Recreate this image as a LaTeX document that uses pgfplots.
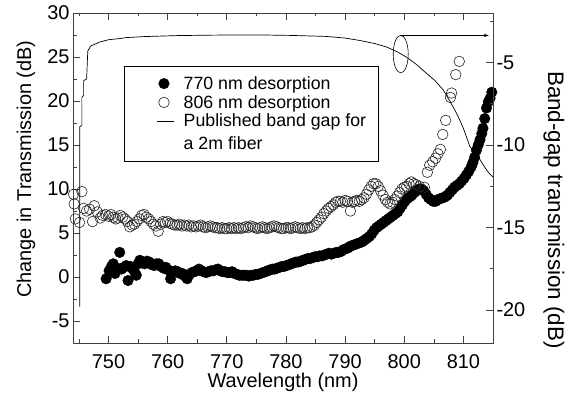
\documentclass[border=0pt]{standalone}
\usepackage{fontspec}
\setmainfont{Liberation Sans}
\usepackage{pgfplots}
\pgfplotsset{compat=1.18}
\pgfplotsset{
  markleg/.style={legend image code/.code={\path (-29.5bp,0) (17.4bp,0); \draw[##1] plot coordinates {(0cm,0cm)};}},
  lineleg/.style={legend image code/.code={\path (-29.5bp,0) (17.4bp,0); \draw[##1] (-6.5bp,11.25bp) -- (10.5bp,11.25bp);}},
}
\begin{document}
\begin{tikzpicture}
\useasboundingbox (0,0) rectangle (570bp,400bp);
\pgfplotsset{
  common/.style={
    at={(73bp,57bp)}, anchor=south west,
    scale only axis, width=420bp, height=330bp,
    xmin=744, xmax=815,
    major tick length=7bp, minor tick length=3.5bp,
    every tick/.style={black!75, line width=0.7pt},
    axis line style={black!75, line width=0.9pt},
    tick label style={font=\fontsize{20}{24}\selectfont},
    /pgf/number format/assume math mode=true,
  }
}
\begin{axis}[common,
  tick align=inside,
  ymin=-7.5, ymax=30,
  xtick={750,760,...,810}, minor xtick={745,755,...,805},
  ytick={-5,0,...,30}, minor ytick={-2.5,2.5,...,27.5},
  ytick pos=left, xtick pos=both, xticklabel pos=lower,
  xticklabel style={yshift=-8bp},
  xlabel={Wavelength (nm)},
  ylabel={Change in Transmission (dB)},
  every axis x label/.style={at={(axis description cs:0.5,-0.118)}, anchor=center, font=\fontsize{20}{24}\selectfont},
  every axis y label/.style={at={(axis description cs:-0.112,0.527)}, rotate=90, anchor=center, font=\fontsize{20}{24}\selectfont},
  legend style={at={(axis description cs:0.121,0.839)}, anchor=north west,
    draw=black, line width=0.6pt, fill=white,
    font=\fontsize{17.8}{22.5}\selectfont,
    cells={anchor=west, align=left},
    inner xsep=10bp, inner ysep=8bp, row sep=0.5bp},
]
\addplot[only marks, mark=*, mark size=5.3bp, mark options={fill=black, draw=black, line width=0.4pt}, markleg]
coordinates {
(749.6,-0.2)(750.1,0.7)(750.5,1.2)(750.8,1.5)(751.1,0.4)(751.5,1.0)(751.9,2.8)(752.2,0.9)
(752.6,1.1)(753.0,1.3)(753.3,-0.4)(753.7,1.2)(754.0,1.0)(754.4,0.6)(754.7,0.2)(755.0,1.5)
(755.3,1.9)(755.7,1.6)(756.1,1.5)(756.5,1.8)(756.9,1.7)(757.3,1.4)(757.7,1.3)(758.1,1.5)
(758.5,1.5)(758.9,1.2)(759.3,1.0)(759.7,1.1)(760.1,0.8)(760.5,-0.2)(760.9,0.6)(761.3,0.7)
(761.7,0.6)(762.1,0.4)(762.5,0.4)(762.9,0.1)(763.3,-0.2)(763.7,0.3)(764.1,0.5)(764.5,0.6)
(764.9,0.7)(765.3,0.9)(765.7,0.7)(766.1,0.6)(766.5,0.5)(766.9,0.6)(767.3,0.7)(767.7,0.7)
(768.1,0.8)(768.5,0.9)(768.9,0.7)(769.3,0.6)(769.7,0.6)(770.1,0.5)(770.5,0.5)(770.9,0.6)
(771.3,0.4)(771.7,0.3)(772.1,0.2)(772.5,0.2)(772.9,0.2)(773.3,0.2)(773.7,0.1)(774.1,0.2)
(774.5,0.2)(774.9,0.3)(775.3,0.3)(775.7,0.4)(776.1,0.5)(776.5,0.6)(776.9,0.7)(777.3,0.8)
(777.7,0.9)(778.1,0.9)(778.5,1.0)(778.9,1.1)(779.3,1.2)(779.7,1.2)(780.1,1.3)(780.5,1.4)
(780.9,1.5)(781.3,1.6)(781.7,1.7)(782.1,1.7)(782.5,1.8)(782.9,1.9)(783.3,2.0)(783.7,2.1)
(784.1,2.1)(784.5,2.2)(784.9,2.3)(785.3,2.3)(785.7,2.4)(786.1,2.4)(786.5,2.5)(786.9,2.6)
(787.3,2.7)(787.7,2.6)(788.1,2.7)(788.5,2.8)(788.9,2.8)(789.3,2.9)(789.7,3.1)(790.1,3.2)
(790.5,3.3)(790.9,3.5)(791.3,3.6)(791.7,3.7)(792.1,3.8)(792.5,3.9)(792.9,4.0)(793.3,4.2)
(793.7,4.4)(794.1,4.6)(794.5,4.9)(794.9,5.3)(795.3,5.6)(795.7,5.8)(796.1,6.0)(796.5,6.2)
(796.9,6.4)(797.3,6.6)(797.7,6.8)(798.1,7.0)(798.5,7.2)(798.9,7.4)(799.3,7.8)(799.7,8.2)
(800.1,8.6)(800.5,8.9)(800.9,9.1)(801.3,9.3)(801.7,9.6)(802.1,9.8)(802.5,10.0)(802.9,10.0)
(803.3,9.8)(803.7,9.4)(804.1,9.0)(804.5,8.8)(804.9,8.6)(805.3,8.6)(805.7,8.8)(806.1,8.9)
(806.5,9.0)(806.9,9.1)(807.3,9.3)(807.7,9.6)(808.1,9.9)(808.5,10.2)(808.9,10.4)(809.3,10.6)
(809.7,10.9)(810.1,11.2)(810.5,11.6)(810.9,12.0)(811.3,12.5)(811.6,13.0)(811.9,13.6)(812.2,14.4)
(812.5,15.0)(812.8,15.6)(813.1,16.3)(813.3,16.9)(813.6,18.0)(813.9,19.2)(814.2,19.9)(814.5,20.3)
(814.8,21.0)
};
\addlegendentry{770 nm desorption}
\addplot[only marks, mark=o, mark size=5.3bp, mark options={draw=black!85, line width=0.6pt}, markleg]
coordinates {
(744.1,9.4)(744.2,8.3)(744.4,6.6)(745.1,6.2)(745.5,9.7)(745.8,7.8)(746.3,7.5)(746.8,7.7)
(747.3,6.3)(747.6,8.1)(748.1,7.4)(748.6,6.7)(749.0,7.0)(749.5,7.1)(750.0,6.9)(750.4,7.1)
(750.8,6.8)(751.2,6.6)(751.6,6.7)(752.0,7.0)(752.4,6.8)(752.8,6.6)(753.2,6.3)(753.6,5.7)
(754.0,5.9)(754.4,6.0)(754.8,6.3)(755.2,6.6)(755.6,7.0)(756.0,7.1)(756.4,6.8)(756.8,6.6)
(757.2,6.3)(757.6,6.0)(758.0,5.8)(758.4,5.2)(758.8,6.0)(759.2,6.3)(759.6,6.2)(760.0,6.3)
(760.4,6.1)(760.8,6.0)(761.2,5.9)(761.6,5.9)(762.0,6.0)(762.4,5.8)(762.8,5.9)(763.2,5.8)
(763.6,5.9)(764.0,5.7)(764.4,5.8)(764.8,5.7)(765.2,5.8)(765.6,5.9)(766.0,5.7)(766.4,5.6)
(766.8,5.7)(767.2,5.8)(767.6,5.7)(768.0,5.6)(768.4,5.6)(768.8,5.5)(769.2,5.6)(769.6,5.5)
(770.0,5.5)(770.4,5.6)(770.8,5.5)(771.2,5.6)(771.6,5.5)(772.0,5.6)(772.4,5.5)(772.8,5.6)
(773.2,5.7)(773.6,5.6)(774.0,5.8)(774.4,5.7)(774.8,5.6)(775.2,5.5)(775.6,5.6)(776.0,5.7)
(776.4,5.6)(776.8,5.5)(777.2,5.6)(777.6,5.7)(778.0,5.8)(778.4,5.7)(778.8,5.6)(779.2,5.5)
(779.6,5.5)(780.0,5.6)(780.4,5.6)(780.8,5.5)(781.2,5.6)(781.6,5.7)(782.0,5.6)(782.4,5.5)
(782.8,5.6)(783.2,5.5)(783.6,5.6)(784.0,5.6)(784.4,5.7)(784.8,5.9)(785.2,6.2)(785.6,6.5)
(786.0,6.8)(786.4,7.2)(786.8,7.5)(787.2,7.8)(787.6,8.0)(788.0,8.2)(788.4,8.5)(788.8,8.6)
(789.2,8.6)(789.6,8.5)(790.0,8.7)(790.4,8.6)(790.9,7.5)(791.2,8.5)(791.6,8.6)(792.0,8.7)
(792.4,8.6)(792.8,8.8)(793.2,9.0)(793.6,9.4)(794.0,9.9)(794.4,10.3)(794.8,10.6)(795.2,10.6)
(795.6,10.3)(796.0,9.8)(796.4,9.3)(796.8,8.8)(797.2,8.5)(797.6,8.3)(798.0,8.5)(798.4,8.8)
(798.8,9.2)(799.2,9.6)(799.6,10.0)(800.0,10.2)(800.4,10.3)(800.8,10.6)(801.2,10.8)(801.6,10.6)
(802.0,10.5)(802.6,10.3)(803.4,10.2)(803.9,11.9)(804.3,12.7)(804.8,13.1)(805.3,13.5)(805.7,14.0)
(806.1,14.5)(806.5,16.2)(807.0,17.8)(807.8,20.4)(808.0,20.9)(808.7,23.0)(809.3,24.5)
};
\addlegendentry{806 nm desorption}
\addlegendimage{black, line width=0.7pt, lineleg}
\addlegendentry{Published band gap for\\a 2m fiber}
\end{axis}
\begin{axis}[common,
  ymin=-22, ymax=-2,
  axis y line*=right, axis x line=none,
  tick align=inside,
  ytick={-20,-15,-10,-5}, minor ytick={-17.5,-12.5,-7.5,-2.5},
  ylabel={Band-gap transmission (dB)},
  every axis y label/.style={at={(axis description cs:1.145,0.403)}, rotate=-90, anchor=center, font=\fontsize{22.5}{26}\selectfont},
]
\addplot[black, line width=0.7pt] coordinates {
(745.15,-19.8)(745.15,-8.9)(745.5,-8.8)(745.5,-7.1)(745.8,-7.0)(745.8,-6.1)(746.3,-6.0)(746.5,-4.3)
(747.0,-4.0)(748.5,-3.76)(750.0,-3.62)(751.9,-3.55)(753.0,-3.49)(756.0,-3.43)(761.5,-3.37)(768.0,-3.34)
(775.5,-3.33)(781.0,-3.36)(786.8,-3.42)(790.0,-3.52)(792.4,-3.66)(795.0,-3.85)(797.0,-4.06)(798.8,-4.35)
(800.3,-4.66)(802.0,-5.1)(803.7,-5.64)(805.2,-6.1)(806.6,-6.67)(807.8,-7.4)(808.8,-8.05)(809.4,-8.5)
(810.0,-9.0)(810.5,-9.5)(811.1,-10.1)(811.6,-10.3)(812.0,-10.2)(812.5,-10.7)(813.0,-11.0)(813.7,-11.4)
(814.3,-11.7)(815.0,-11.95)
};
\draw[black, line width=0.6pt] (axis cs:799.4,-4.49) ellipse [x radius=7.5bp, y radius=18.8bp];
\draw[black, line width=0.6pt, -latex] (axis cs:799.3,-3.36) -- (axis cs:814.3,-3.36);
\end{axis}
\end{tikzpicture}
\end{document}
